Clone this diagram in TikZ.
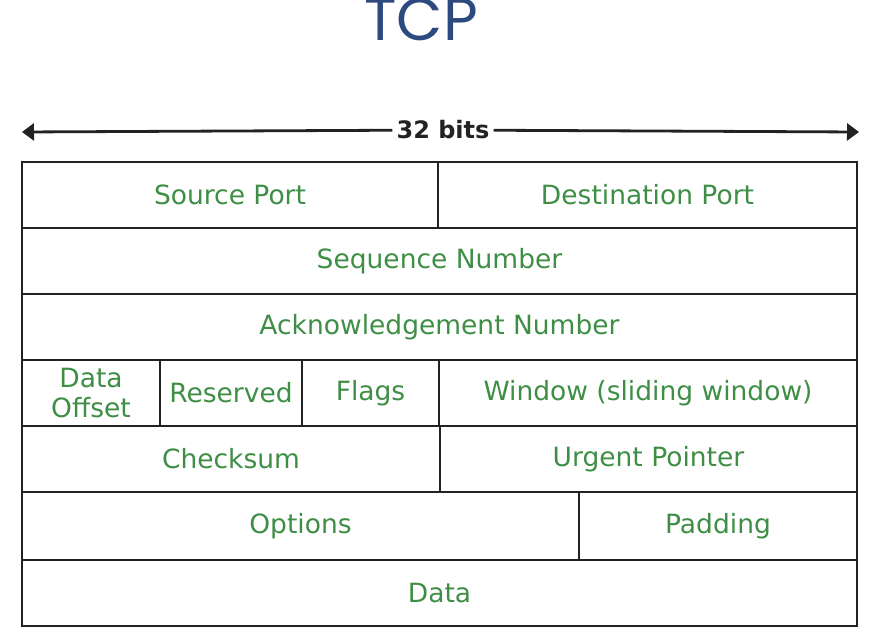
\documentclass[tikz,border=0pt]{standalone}
\usepackage{fontspec}
\setmainfont{DejaVu Sans}
\newfontfamily\titlefont{Poppins}
\usetikzlibrary{arrows.meta}
\definecolor{fieldgreen}{HTML}{3E8E45}
\definecolor{titleblue}{HTML}{2C4A7E}
\definecolor{linegray}{HTML}{222222}
\tikzset{
  cell/.style={draw=linegray, line width=1.8pt, inner sep=0pt, outer sep=0pt,
    font=\fontsize{26.5}{30}\selectfont, text=fieldgreen, align=center},
}
\newcommand{\fieldcell}[6]{%
  \node[cell, minimum width={#4-#2}, minimum height={#5-#3}] (#1) at ({(#2+#4)/2},{(#3+#5)/2}) {#6};}
\begin{document}
\begin{tikzpicture}[x=1pt,y=-1pt]
\useasboundingbox (0,0) rectangle (880,642);
\node[font=\titlefont\fontsize{60}{60}\selectfont, text=titleblue] (title) at (421,20) {TCP};
% width arrow
\coordinate (L) at (22,132);
\coordinate (R) at (859,132);
\node[font=\bfseries\fontsize{24}{26}\selectfont, text=linegray, fill=white, inner xsep=4pt] (bits) at (443,130) {32 bits};
\draw[line width=2.8pt, draw=linegray, -{Triangle[length=12pt,width=17pt]}] (bits) -- (R);
\draw[line width=2.8pt, draw=linegray, -{Triangle[length=12pt,width=17pt]}] (bits) -- (L);
% cells
\fieldcell{sp}{22}{162}{438}{228}{Source Port}
\fieldcell{dp}{438}{162}{857}{228}{Destination Port}
\fieldcell{seq}{22}{228}{857}{294}{Sequence Number}
\fieldcell{ack}{22}{294}{857}{360}{Acknowledgement Number}
\fieldcell{off}{22}{360}{160}{426}{Data\\Offset}
\fieldcell{res}{160}{360}{302}{426}{Reserved}
\fieldcell{flg}{302}{360}{439}{426}{Flags}
\fieldcell{win}{439}{360}{857}{426}{Window (sliding window)}
\fieldcell{chk}{22}{426}{440}{492}{Checksum}
\fieldcell{urg}{440}{426}{857}{492}{Urgent Pointer}
\fieldcell{opt}{22}{492}{579}{560}{Options}
\fieldcell{pad}{579}{492}{857}{560}{Padding}
\fieldcell{dat}{22}{560}{857}{626}{Data}
\end{tikzpicture}
\end{document}
